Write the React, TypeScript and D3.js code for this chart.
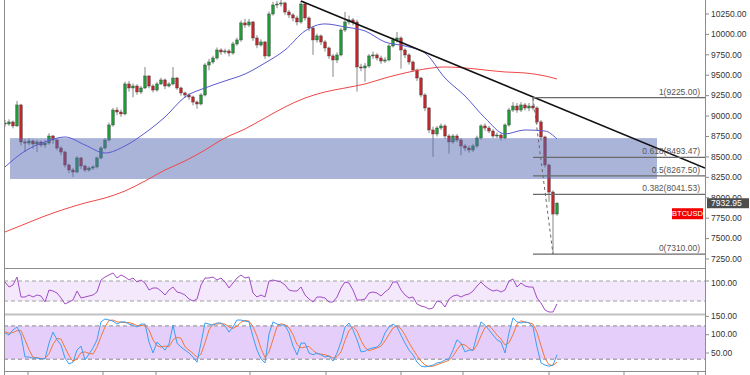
import React from 'react'
import * as d3 from 'd3'

// BTCUSD candles (open = previous close)
const firstOpen = 8915
const closes = [
  8903, 8928, 8879, 9136, 8683, 8670, 8695, 8658, 8683, 8646,
  8670, 8756, 8707, 8609, 8560, 8401, 8340, 8315, 8487, 8389,
  8340, 8364, 8377, 8487, 8609, 8707, 8891, 9074, 9050, 9026,
  9393, 9344, 9368, 9295, 9344, 9491, 9368, 9319, 9393, 9442,
  9368, 9393, 9466, 9344, 9283, 9258, 9234, 9172, 9148, 9258,
  9625, 9662, 9711, 9809, 9785, 9797, 9772, 9883, 9932, 10140,
  10115, 10152, 9956, 9870, 9907, 9736, 10250, 10360, 10372, 10385,
  10274, 10238, 10201, 10152, 10372, 10201, 10079, 9932, 9981, 9907,
  9834, 9736, 9687, 9748, 10054, 10152, 10177, 10152, 9601, 9589,
  9613, 9736, 9748, 9711, 9674, 9687, 9858, 9932, 9956, 9809,
  9748, 9662, 9564, 9466, 9258, 9099, 8830, 8781, 8854, 8879,
  8756, 8683, 8756, 8707, 8634, 8609, 8585, 8634, 8732, 8879,
  8854, 8817, 8756, 8768, 8732, 8891, 9074, 9123, 9074, 9136,
  9099, 9123, 9099, 8928, 8744, 8401, 8070, 7801, 7932.95,
]
const highs = [
  8950, 8960, 8945, 9185, 9150, 8720, 8730, 8715, 8710, 8700,
  8705, 8790, 8770, 8720, 8630, 8575, 8420, 8365, 8510, 8500,
  8405, 8385, 8400, 8505, 8630, 8730, 8920, 9100, 9110, 9080,
  9420, 9430, 9400, 9390, 9370, 9600, 9500, 9390, 9420, 9470,
  9460, 9415, 9600, 9480, 9360, 9300, 9280, 9250, 9190, 9280,
  9650, 9700, 9740, 9840, 9830, 9825, 9820, 9910, 9960, 10170,
  10190, 10190, 10165, 9990, 9940, 9920, 10280, 10400, 10410, 10420,
  10400, 10300, 10260, 10230, 10410, 10390, 10220, 10100, 10010, 10000,
  9930, 9850, 9760, 9780, 10080, 10275, 10230, 10200, 10180, 9640,
  9650, 9760, 9790, 9770, 9740, 9720, 9880, 9960, 10030, 9975,
  9830, 9770, 9680, 9580, 9480, 9280, 9110, 8870, 8880, 8910,
  8900, 8780, 8780, 8780, 8730, 8660, 8640, 8660, 8760, 8900,
  8910, 8880, 8840, 8800, 8790, 8910, 9100, 9170, 9160, 9170,
  9160, 9160, 9225, 9120, 8950, 8760, 8420, 8090, 7950,
]
const lows = [
  8870, 8880, 8850, 8870, 8640, 8560, 8640, 8600, 8560, 8620,
  8610, 8650, 8660, 8580, 8520, 8370, 8300, 8255, 8300, 8350,
  8315, 8320, 8340, 8360, 8470, 8590, 8690, 8870, 9010, 8990,
  9010, 9300, 9230, 9260, 9270, 9330, 9340, 9290, 9300, 9380,
  9330, 9350, 9375, 9320, 9250, 9220, 9200, 9130, 9090, 9130,
  9240, 9560, 9640, 9690, 9750, 9760, 9730, 9750, 9860, 9910,
  10080, 10090, 9920, 9830, 9850, 9700, 9720, 10230, 10320, 10340,
  10240, 10200, 10160, 10110, 10130, 10170, 10040, 9750, 9900, 9870,
  9790, 9700, 9480, 9650, 9730, 10030, 10120, 10110, 9300, 9550,
  9420, 9590, 9700, 9680, 9640, 9650, 9670, 9840, 9900, 9580,
  9710, 9630, 9540, 9430, 9230, 9060, 8790, 8500, 8750, 8830,
  8720, 8540, 8660, 8680, 8520, 8570, 8550, 8560, 8610, 8710,
  8820, 8790, 8730, 8730, 8700, 8715, 8870, 9050, 9040, 9050,
  9070, 9060, 9070, 8900, 8700, 8370, 7950, 7310, 7780,
]

// moving averages, sampled every 5 candles
const maIdx = [0, 5, 10, 15, 20, 25, 30, 35, 40, 45, 50, 55, 60, 65, 70, 75, 80, 85, 90, 95, 100, 105, 110, 115, 120, 125, 130, 135, 138]
const maFast = [8377, 8572, 8683, 8744, 8646, 8548, 8634, 8793, 8989, 9234, 9344, 9430, 9515, 9650, 9809, 10042, 10128, 10091, 10042, 9907, 9858, 9772, 9466, 9246, 8977, 8781, 8830, 8817, 8719]
const maSlow = [7581, 7679, 7777, 7862, 7936, 7997, 8083, 8205, 8340, 8450, 8585, 8732, 8842, 8977, 9111, 9221, 9295, 9344, 9393, 9466, 9528, 9577, 9601, 9589, 9564, 9540, 9528, 9491, 9454]

// support zone and trend line
const zone = { from: 1.25, to: 163, top: 8730, bottom: 8230 }
const trend = [[74, 10410], [175, 8364]]

// fibonacci retracement
const fibStart = 132
const fibRatios = ['1', '0.618', '0.5', '0.382', '0']
const fibPrices = [9225, 8493.47, 8267.5, 8041.53, 7310]
const fibDiag = [[132, 9225], [137, 7310]]

// oscillators
const osc = [
  90, 40, 60, 140, -60, -60, -40, -60, -40, -50,
  -110, 10, 0, -20, -70, -130, -110, -90, 0, -70,
  -60, -50, -40, -10, 110, 140, 160, 180, 130, 160,
  140, 110, 130, 90, 110, 80, 10, 30, 30, 0,
  -40, 10, 40, -10, -20, -40, -80, -100, -80, 60,
  130, 130, 140, 110, 130, 90, 30, 80, 130, 160,
  130, 140, -20, -60, -40, -60, 100, 110, 100, 90,
  60, 10, 0, 0, 40, -40, -80, -110, -60, -60,
  -70, -110, -110, -60, 30, 90, 80, 10, -90, -90,
  -80, -20, -10, -20, -50, -10, 20, 90, 90, 10,
  -40, -70, -60, -130, -150, -160, -180, -170, -100, -110,
  -160, -80, -50, -40, -60, -40, -30, 0, 50, 90,
  50, 20, 0, 10, -10, 10, 100, 120, 40, 80,
  50, 40, 40, -70, -120, -190, -210, -210, -130,
]
const stochK = [
  105, 99, 113, 121, 99, 39, 39, 36, 36, 34,
  34, 77, 107, 86, 72, 36, 20, 25, 58, 69,
  31, 47, 64, 86, 135, 143, 140, 137, 129, 135,
  135, 129, 126, 121, 129, 129, 80, 50, 80, 69,
  58, 75, 126, 77, 66, 58, 50, 39, 25, 77,
  132, 129, 126, 132, 132, 124, 107, 121, 140, 140,
  137, 135, 94, 58, 34, 23, 102, 135, 129, 126,
  126, 105, 69, 45, 77, 77, 50, 45, 50, 45,
  39, 42, 28, 50, 80, 121, 132, 113, 86, 53,
  55, 61, 64, 66, 77, 105, 121, 129, 121, 99,
  77, 58, 45, 25, 14, 12, 14, 17, 23, 25,
  31, 34, 58, 86, 77, 53, 58, 58, 99, 135,
  126, 113, 99, 86, 80, 50, 105, 146, 135, 132,
  135, 132, 121, 66, 23, 17, 14, 17, 45,
]
const stochD = [
  108, 104, 106, 111, 111, 86, 59, 38, 37, 35,
  35, 48, 73, 90, 88, 65, 43, 27, 34, 51,
  53, 49, 47, 66, 95, 121, 139, 140, 135, 134,
  133, 133, 130, 125, 125, 126, 113, 86, 70, 66,
  69, 67, 86, 93, 90, 67, 58, 49, 38, 47,
  78, 113, 129, 129, 130, 129, 121, 117, 123, 134,
  139, 137, 122, 96, 62, 38, 53, 87, 122, 130,
  127, 119, 100, 73, 64, 66, 68, 57, 48, 47,
  45, 42, 36, 40, 53, 84, 111, 122, 110, 84,
  65, 56, 60, 64, 69, 83, 101, 118, 124, 116,
  99, 78, 60, 43, 28, 17, 13, 14, 18, 22,
  26, 30, 41, 59, 74, 72, 63, 56, 72, 97,
  120, 125, 113, 99, 88, 72, 78, 100, 129, 138,
  134, 133, 129, 106, 70, 35, 18, 16, 25,
]
const oscBand = [100, -100]
const stochBand = [124, 33]

const priceTicks = [7250, 7500, 7750, 8000, 8250, 8500, 8750, 9000, 9250, 9500, 9750, 10000, 10250]
const oscTicks = [100]
const stochTicks = [50, 100, 150]
const timeTicks = [5.75, 24.5, 37.75, 61.25, 80.25, 99, 114.5, 136, 154.75, 173.25]
const symbol = 'BTCUSD'

const font = 'Liberation Sans, Arial, sans-serif'
const AX = 705

export default function App() {
  const x = d3.scaleLinear().domain([0, 175]).range([5, AX])
  const y = d3.scaleLinear().domain([7140, 10421]).range([268, 0])
  const yOsc = d3.scaleLinear().domain([-230, 230]).range([314, 268])
  const yStoch = d3.scaleLinear().domain([0, 156.5]).range([371.3, 314])

  const opens = closes.map((c, i) => (i === 0 ? firstOpen : closes[i - 1]))
  const maLine = d3.line<number>()
    .x((d, i) => x(maIdx[i]))
    .y(d => y(d))
    .curve(d3.curveMonotoneX)
  const oscLine = d3.line<number>().x((d, i) => x(i)).y(d => yOsc(d))
  const stochLine = d3.line<number>().x((d, i) => x(i)).y(d => yStoch(d))

  const last = closes[closes.length - 1]
  const yLast = y(last)

  return (
    <svg width={750} height={375} style={{ position: 'absolute', left: 0, top: 0, background: '#fff' }}
      fontFamily={font}>
      <defs>
        <clipPath id="main"><rect x={4} y={0} width={AX - 4} height={268} /></clipPath>
      </defs>

      <g clipPath="url(#main)">
        {closes.map((c, i) => {
          const o = opens[i]
          const up = c >= o
          const top = y(Math.max(o, c))
          const h = Math.max(1, Math.abs(y(o) - y(c)))
          return (
            <g key={i}>
              <line x1={x(i)} x2={x(i)} y1={y(highs[i])} y2={y(lows[i])} stroke="#858585" strokeWidth={1} />
              <rect x={x(i) - 1.3} y={top} width={2.6} height={h}
                fill={up ? '#1f9a36' : '#c1262b'} stroke="#3a3a3a" strokeWidth={0.4} />
            </g>
          )
        })}

        <rect x={x(zone.from)} y={y(zone.top)} width={x(zone.to) - x(zone.from)}
          height={y(zone.bottom) - y(zone.top)} fill="#5569b3" opacity={0.5} />

        <path d={maLine(maSlow) || ''} fill="none" stroke="#f04848" strokeWidth={1} />
        <path d={maLine(maFast) || ''} fill="none" stroke="#5a5ad0" strokeWidth={1} />

        <line x1={x(trend[0][0])} y1={y(trend[0][1])} x2={x(trend[1][0])} y2={y(trend[1][1])}
          stroke="#111" strokeWidth={1.6} />

        <line x1={x(fibDiag[0][0])} y1={y(fibDiag[0][1])} x2={x(fibDiag[1][0])} y2={y(fibDiag[1][1])}
          stroke="#666" strokeWidth={1} strokeDasharray="3,3" />
        {fibPrices.map((p, i) => (
          <g key={i}>
            <line x1={x(fibStart)} x2={AX} y1={y(p)} y2={y(p)} stroke="#6a6a6a" strokeWidth={1.3} />
            <text x={AX - 5} y={y(p) - 3} textAnchor="end" fontSize={8.5} fill="#555">
              {`${fibRatios[i]}(${p.toFixed(2)})`}
            </text>
          </g>
        ))}
      </g>

      {/* oscillator pane */}
      <rect x={4} y={yOsc(oscBand[0])} width={AX - 4} height={yOsc(oscBand[1]) - yOsc(oscBand[0])} fill="#f4e9fc" />
      {oscBand.map((b, i) => (
        <line key={i} x1={4} x2={AX} y1={yOsc(b)} y2={yOsc(b)} stroke="#a0a0a0" strokeDasharray="4,3" />
      ))}
      <path d={oscLine(osc) || ''} fill="none" stroke="#a24cc6" strokeWidth={1} />

      {/* stochastic pane */}
      <rect x={4} y={yStoch(stochBand[0])} width={AX - 4} height={yStoch(stochBand[1]) - yStoch(stochBand[0])} fill="#e6cefa" />
      {stochBand.map((b, i) => (
        <line key={i} x1={4} x2={AX} y1={yStoch(b)} y2={yStoch(b)} stroke="#8a8a8a" strokeDasharray="4,3" />
      ))}
      <path d={stochLine(stochD) || ''} fill="none" stroke="#f2773a" strokeWidth={1} />
      <path d={stochLine(stochK) || ''} fill="none" stroke="#3d9ef2" strokeWidth={1} />

      {/* frame */}
      <line x1={4} x2={AX} y1={268.5} y2={268.5} stroke="#8c8c8c" strokeWidth={1} />
      <line x1={4} x2={AX} y1={314.5} y2={314.5} stroke="#c2c2c2" strokeWidth={2} />
      <line x1={4} x2={AX} y1={371.5} y2={371.5} stroke="#8c8c8c" strokeWidth={1} />
      <line x1={4.5} x2={4.5} y1={0} y2={375} stroke="#8c8c8c" strokeWidth={1} />
      <line x1={AX + 0.5} x2={AX + 0.5} y1={0} y2={375} stroke="#8c8c8c" strokeWidth={1} />
      {timeTicks.map((t, i) => (
        <line key={i} x1={x(t)} x2={x(t)} y1={372} y2={375} stroke="#8c8c8c" />
      ))}

      {/* right axis */}
      {priceTicks.map(t => (
        <g key={t}>
          <line x1={AX} x2={AX + 4} y1={y(t)} y2={y(t)} stroke="#8c8c8c" />
          <text x={AX + 6} y={y(t)} dy="0.33em" fontSize={8.5} fill="#333">{t.toFixed(2)}</text>
        </g>
      ))}
      {oscTicks.map(t => (
        <g key={t}>
          <line x1={AX} x2={AX + 4} y1={yOsc(t)} y2={yOsc(t)} stroke="#8c8c8c" />
          <text x={AX + 6} y={yOsc(t) + 2} dy="0.33em" fontSize={8.5} fill="#333">{t.toFixed(2)}</text>
        </g>
      ))}
      {stochTicks.map(t => (
        <g key={t}>
          <line x1={AX} x2={AX + 4} y1={yStoch(t)} y2={yStoch(t)} stroke="#8c8c8c" />
          <text x={AX + 6} y={yStoch(t)} dy="0.33em" fontSize={8.5} fill="#333">{t.toFixed(2)}</text>
        </g>
      ))}

      {/* last price and symbol tags */}
      <rect x={AX + 2} y={yLast - 5} width={42} height={10} fill="#4d4d4d" />
      <text x={AX + 6} y={yLast} dy="0.33em" fontSize={8.5} fill="#fff">{last.toFixed(2)}</text>
      <rect x={AX - 33} y={yLast + 5} width={31} height={11} fill="#f40000" />
      <text x={AX - 17.5} y={yLast + 10.5} dy="0.33em" textAnchor="middle" fontSize={7.5} fill="#fff">{symbol}</text>
    </svg>
  )
}
